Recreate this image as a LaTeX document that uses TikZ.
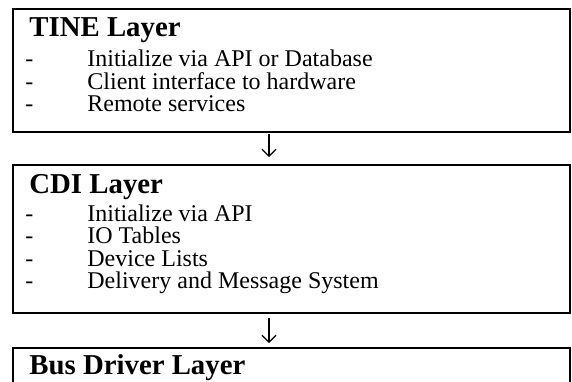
\documentclass[tikz,border=0pt]{standalone}
\usepackage{fontspec}
\setmainfont{Liberation Serif}
\usetikzlibrary{arrows.meta,positioning}

\begin{document}
\begin{tikzpicture}[x=0.5pt, y=-0.5pt,
    layerbox/.style={draw, line width=1pt, inner sep=0pt, outer sep=0pt, anchor=north west, minimum width=278.5pt},
    layertitle/.style={font=\fontsize{14.4}{16}\selectfont\bfseries, inner sep=0pt, anchor=base west},
    itemtext/.style={font=\fontsize{12}{14}\selectfont, inner sep=0pt, anchor=base west},
    flow/.style={line width=0.6pt, -{Straight Barb[length=3.5pt,width=7pt,line width=0.6pt]}}]

\useasboundingbox (0,0) rectangle (572,381);
\clip (0,0) rectangle (572,381);

% Top: TINE layer
\begin{scope}
    \node[layerbox, minimum height=61.5pt] (tine) at (13,9) {};
    \node[layertitle] (tinetitle) at (29,36) {TINE Layer};
    \foreach \t [count=\i] in {Initialize via API or Database, Client interface to hardware, Remote services} {
        \node[itemtext] (tinedash\i) at (25,{66.5+22.5*(\i-1)}) {-};
        \node[itemtext] (tineitem\i) at (87,{66.5+22.5*(\i-1)}) {\t};
    }
\end{scope}

% Middle: CDI layer
\begin{scope}
    \node[layerbox, minimum height=74pt] (cdi) at (13,165) {};
    \node[layertitle] (cdititle) at (29,193) {CDI Layer};
    \foreach \t [count=\i] in {Initialize via API, IO Tables, Device Lists, Delivery and Message System} {
        \node[itemtext] (cdidash\i) at (25,{221+22.5*(\i-1)}) {-};
        \node[itemtext] (cdiitem\i) at (87,{221+22.5*(\i-1)}) {\t};
    }
\end{scope}

% Bottom: bus driver layer (cut off by the page)
\node[layerbox, minimum height=60pt] (bus) at (13,348) {};
\node[layertitle] (bustitle) at (29,374) {Bus Driver Layer};

% Arrows between the layers
\coordinate (ax) at (269,0);
\draw[flow, shorten <=1.2pt, shorten >=4pt] (tine.south -| ax) -- (cdi.north -| ax);
\draw[flow, shorten <=2.5pt, shorten >=2.5pt] (cdi.south -| ax) -- (bus.north -| ax);

\end{tikzpicture}
\end{document}
